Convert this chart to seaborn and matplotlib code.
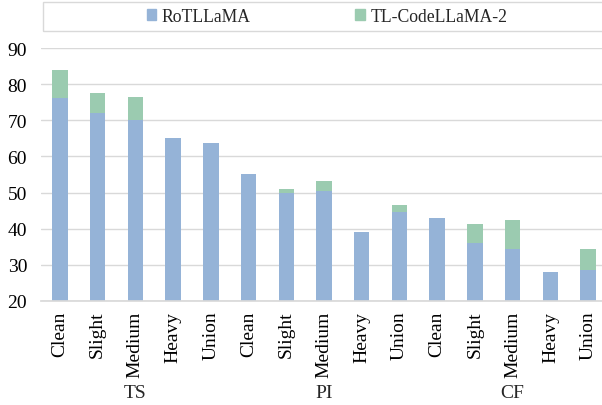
import numpy as np
import pandas as pd
import matplotlib
matplotlib.use("Agg")
import matplotlib.pyplot as plt
from matplotlib.patches import Rectangle, Patch
import seaborn as sns

# data
groups = ["TS", "PI", "CF"]
levels = ["Clean", "Slight", "Medium", "Heavy", "Union"]
rotllama = [76.2, 72.0, 70.0, 65.1, 63.7,
            55.1, 49.9, 50.4, 39.2, 44.6,
            43.0, 36.0, 34.5, 28.0, 28.6]
# extra height shown in green on top of the blue bar
codellama_gain = [7.7, 5.6, 6.4, 0.0, 0.0,
                  0.0, 1.1, 2.8, 0.0, 2.0,
                  0.0, 5.3, 7.9, 0.0, 5.8]

blue = "#95B3D7"
green = "#9BCBB0"

sns.set_theme(style="white")
plt.rcParams["font.family"] = ["Liberation Serif", "DejaVu Serif"]

tick_labels = [lv for g in groups for lv in levels]
df = pd.DataFrame({
    "pos": list(range(len(tick_labels))),
    "blue": rotllama,
    "total": np.array(rotllama) + np.array(codellama_gain),
})

fig = plt.figure(figsize=(6.02, 4.06), dpi=100)
ax = fig.add_axes([41 / 602, 1 - 302 / 406, 566 / 602, (302 - 49) / 406])

sns.barplot(data=df, x="pos", y="total", color=green, width=0.41,
            saturation=1, linewidth=0, ax=ax)
sns.barplot(data=df, x="pos", y="blue", color=blue, width=0.41,
            saturation=1, linewidth=0, ax=ax)

ax.set_ylim(20, 90)
ax.set_xlim(-0.5, len(tick_labels) - 0.5)
ax.set_yticks(range(20, 91, 10))
ax.yaxis.grid(True, color="#D9D9D9", lw=1)
ax.set_axisbelow(True)
for s in ["top", "right", "left"]:
    ax.spines[s].set_visible(False)
ax.spines["bottom"].set_color("#D9D9D9")
ax.set_xlabel("")
ax.set_ylabel("")
ax.set_xticks(range(len(tick_labels)))
ax.set_xticklabels(tick_labels, rotation=90, fontsize=14)
ax.tick_params(axis="both", length=0, labelsize=14, colors="black")
ax.tick_params(axis="x", pad=7)
ax.tick_params(axis="y", pad=10)

for i, g in enumerate(groups):
    ax.text(i * 5 + 2, -0.36, g, transform=ax.get_xaxis_transform(),
            ha="center", va="center", fontsize=14)

# legend frame along the top
fig.patches.append(Rectangle((43 / 602, 1 - 32 / 406), 570 / 602, 29 / 406,
                             transform=fig.transFigure, fill=False,
                             edgecolor="#D9D9D9", lw=1))
handles = [Patch(color=blue, label="RoTLLaMA"),
           Patch(color=green, label="TL-CodeLLaMA-2")]
fig.legend(handles=handles, loc="center", bbox_to_anchor=(327 / 602, 1 - 17.5 / 406),
           ncol=2, frameon=False, fontsize=12.7, handlelength=0.55,
           handleheight=0.55, handletextpad=0.3, columnspacing=5.95)

fig.savefig("out.png", dpi=100)
